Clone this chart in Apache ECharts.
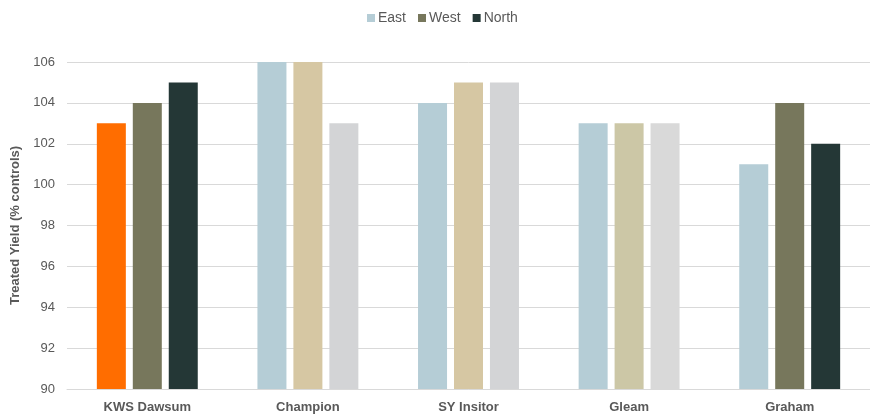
<!DOCTYPE html>
<html><head><meta charset="utf-8">
<script src="https://cdn.jsdelivr.net/npm/echarts@6/dist/echarts.min.js"></script>
<style>html,body{margin:0;padding:0;background:#fff}#c{width:870px;height:414px}</style>
</head><body><div id="c"></div>
<script>
const categories = ['KWS Dawsum', 'Champion', 'SY Insitor', 'Gleam', 'Graham'];
const seriesNames = ['East', 'West', 'North'];
const eastValues = [103, 106, 104, 103, 101];
const westValues = [104, 106, 105, 103, 104];
const northValues = [105, 103, 105, 103, 102];
const eastColors = ['#FF6D00', '#B5CDD6', '#B5CDD6', '#B5CDD6', '#B5CDD6'];
const westColors = ['#77775C', '#D6C7A3', '#D6C7A3', '#CCC7A6', '#77775C'];
const northColors = ['#243736', '#D3D4D6', '#D3D4D6', '#D9D9D9', '#243736'];
const legendColors = ['#B5CDD6', '#77775C', '#243736'];
const yTicks = { min: 90, max: 106, interval: 2 };

const font = 'Liberation Sans, Arial, sans-serif';
function mk(name, vals, cols, lc) {
  return {
    name: name, type: 'bar', barWidth: 29, barGap: '24%',
    itemStyle: { color: lc },
    data: vals.map((v, i) => ({ value: v, itemStyle: { color: cols[i] } }))
  };
}
const chart = echarts.init(document.getElementById('c'));
chart.setOption({
  animation: false,
  legend: {
    top: 6, left: 362, itemWidth: 8, itemHeight: 8, itemGap: 12,
    icon: 'rect',
    textStyle: { fontFamily: font, fontSize: 14, color: '#595959', padding: [0, 0, 0, -2] },
    data: seriesNames.map((n, i) => ({ name: n, itemStyle: { color: legendColors[i] } }))
  },
  grid: { left: 67, right: 0, top: 62, bottom: 24, containLabel: false },
  xAxis: {
    type: 'category', data: categories,
    axisLine: { lineStyle: { color: '#D9D9D9', width: 1 } },
    axisTick: { show: false },
    axisLabel: { fontFamily: font, fontSize: 13, fontWeight: 'bold', color: '#595959', margin: 12 }
  },
  yAxis: {
    type: 'value', min: yTicks.min, max: yTicks.max, interval: yTicks.interval,
    name: 'Treated Yield (% controls)', nameLocation: 'middle', nameGap: 42, nameRotate: 90,
    nameTextStyle: { fontFamily: font, fontSize: 13, fontWeight: 'bold', color: '#595959' },
    axisLine: { show: false }, axisTick: { show: false },
    axisLabel: { fontFamily: font, fontSize: 13, color: '#595959', margin: 12 },
    splitLine: { lineStyle: { color: '#D9D9D9', width: 1 } }
  },
  series: [
    mk('East', eastValues, eastColors, legendColors[0]),
    mk('West', westValues, westColors, legendColors[1]),
    mk('North', northValues, northColors, legendColors[2])
  ]
});
</script></body></html>
